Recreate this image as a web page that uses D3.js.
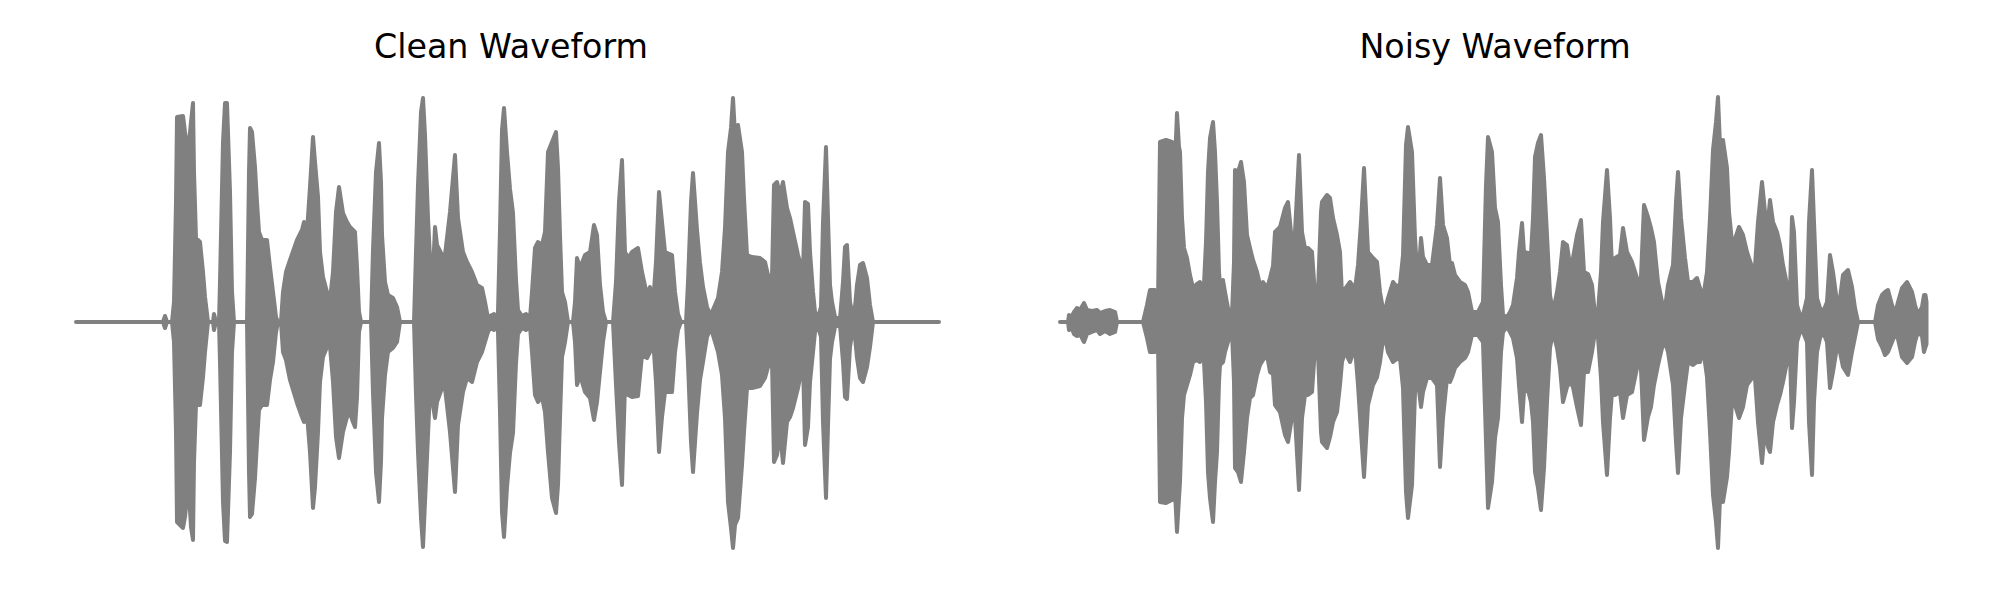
<!DOCTYPE html>
<html>
<head>
<meta charset="utf-8">
<script src="https://cdn.jsdelivr.net/npm/d3@7"></script>
<style>
  html, body { margin: 0; padding: 0; background: #ffffff; }
  svg { display: block; }
</style>
</head>
<body>
<svg id="chart" width="2000" height="600"></svg>
<script>
// ---- Data (time in ms, amplitude normalised; envelope) ----
const titles = ["Clean Waveform", "Noisy Waveform"];
const durationMs = 3480;

const cleanTimeMs = [
  0,348,356,364,384,
  392,400,404,428,436,444,452,460,468,472,480,496,508,516,528,
  548,552,560,
  572,576,588,596,604,616,624,632,
  684,692,696,704,716,724,732,744,764,776,788,800,808,
  820,828,840,856,884,904,912,924,936,948,956,968,976,988,1004,1016,
  1028,1040,1052,1068,1084,1096,1108,1116,1124,1132,1140,
  1180,1188,1200,1212,1220,1224,1236,1248,1268,1284,1296,
  1352,1360,1368,1380,1388,1396,1408,1420,1428,1436,1444,1464,1476,1496,1516,1528,1548,1564,1584,1604,1624,1636,1648,
  1656,1672,1684,
  1688,1696,1704,1712,1724,1736,1748,1760,1768,
  1784,1800,1816,
  1824,1836,1848,1864,1876,1888,1904,1920,1928,1936,1944,1956,1968,
  1988,1996,2004,2016,2036,2056,2072,2084,2096,2108,2120,
  2148,2160,2172,2184,2196,2208,2224,2248,2264,2284,2296,2308,2320,2332,2344,2356,2384,2396,2408,2420,
  2440,2448,2460,2468,2484,2496,2508,2524,2536,
  2544,2556,2568,2584,2596,2608,2620,2628,2636,2648,2664,2672,2684,2704,2736,2756,2768,2784,2792,2804,2816,2828,2844,2856,2868,2888,2908,2916,2928,2936,2948,2956,2968,
  2980,2988,3000,3008,3016,3024,3036,
  3056,3068,3076,3084,3096,3104,3116,3124,3136,3148,3164,3176,3188,
  3452
];
const cleanUpper = [
  0,0,.024,0,0,
  .08,.48,.82,.824,.76,.708,.712,.8,.876,.6,.336,.32,.2,.1,0,
  0,.032,0,
  0,.16,.72,.876,.876,.52,.12,0,
  0,.6,.776,.76,.62,.48,.36,.328,.328,.22,.12,.02,0,
  0,.12,.2,.248,.328,.368,.4,.36,.54,.74,.64,.5,.28,.18,.12,.088,
  .2,.44,.54,.436,.4,.38,.368,.36,.22,.04,0,
  0,.288,.6,.716,.56,.348,.16,.108,.096,.06,0,
  0,.28,.548,.84,.896,.748,.416,.176,.2,.38,.308,.268,.268,.44,.668,.416,.28,.24,.2,.148,.136,.08,.016,
  .024,.032,.012,
  .04,.368,.768,.856,.68,.532,.436,.168,.048,
  .024,.032,.016,
  .12,.296,.32,.308,.36,.68,.72,.76,.616,.348,.12,.08,0,
  0,.08,.256,.216,.268,.28,.388,.348,.148,.04,0,
  0,.16,.48,.648,.28,.256,.28,.296,.2,.108,.14,.068,.24,.52,.4,.28,.268,.12,.032,0,
  0,.16,.48,.596,.368,.236,.14,.06,.032,
  .04,.068,.096,.2,.376,.68,.776,.896,.748,.788,.68,.496,.268,.26,.256,.24,.188,.18,.548,.56,.508,.56,.456,.416,.36,.268,.2,.48,.472,.28,.12,.04,.02,
  .06,.4,.7,.416,.148,.08,.02,
  .012,.16,.3,.308,.08,.04,.06,.148,.228,.236,.176,.068,0,
  0
];
const cleanLower = [
  0,0,-.024,0,0,
  -.08,-.44,-.8,-.824,-.78,-.704,-.688,-.82,-.872,-.56,-.328,-.332,-.22,-.12,0,
  0,-.032,0,
  0,-.16,-.72,-.876,-.88,-.52,-.12,0,
  0,-.6,-.78,-.768,-.624,-.48,-.352,-.332,-.332,-.232,-.16,-.04,0,
  0,-.12,-.152,-.232,-.324,-.38,-.4,-.368,-.52,-.744,-.66,-.44,-.24,-.14,-.1,-.096,
  -.24,-.46,-.544,-.44,-.38,-.364,-.4,-.42,-.3,-.04,0,
  0,-.284,-.6,-.72,-.56,-.384,-.212,-.12,-.104,-.08,0,
  0,-.292,-.52,-.784,-.9,-.72,-.452,-.184,-.332,-.384,-.32,-.264,-.264,-.44,-.68,-.412,-.28,-.224,-.24,-.16,-.12,-.08,-.04,
  -.024,-.032,-.012,
  -.04,-.36,-.76,-.86,-.66,-.524,-.444,-.164,-.048,
  -.024,-.032,-.016,
  -.12,-.292,-.32,-.3,-.36,-.52,-.704,-.764,-.652,-.384,-.14,-.08,0,
  0,-.08,-.252,-.212,-.28,-.304,-.392,-.32,-.2,-.08,0,
  0,-.252,-.48,-.652,-.252,-.292,-.3,-.296,-.132,-.144,-.12,-.064,-.24,-.52,-.38,-.28,-.28,-.12,-.032,0,
  0,-.164,-.48,-.6,-.364,-.232,-.16,-.06,-.032,
  -.04,-.08,-.12,-.212,-.384,-.72,-.824,-.904,-.812,-.784,-.572,-.44,-.264,-.264,-.256,-.224,-.18,-.16,-.56,-.532,-.44,-.564,-.4,-.38,-.344,-.264,-.16,-.492,-.42,-.24,-.12,-.04,-.02,
  -.06,-.4,-.704,-.416,-.148,-.08,-.02,
  -.012,-.16,-.3,-.308,-.1,-.048,-.06,-.144,-.224,-.24,-.18,-.1,0,
  0
];

const noisyTimeMs = [
  0,32,36,44,56,68,80,96,108,128,148,160,180,200,220,228,
  332,348,360,380,392,400,424,448,460,468,476,480,488,496,508,520,532,548,560,572,
  584,592,600,612,620,628,636,640,652,660,672,688,
  696,700,712,724,736,748,760,772,788,800,812,828,840,852,
  860,880,900,912,928,940,956,968,980,992,1008,1020,1032,
  1044,1048,1068,1080,1092,1108,1120,1128,1140,1160,1180,
  1192,1204,1216,1232,1252,1268,1280,1296,
  1312,1332,1348,1360,1372,1384,1392,1408,1420,1432,
  1444,1452,1468,1488,1508,1520,1532,1548,1560,1568,1580,1600,1620,1632,1648,1672,
  1692,1704,1712,1728,1740,1752,1764,1772,
  1788,1800,1812,1828,1836,1848,1856,1872,1884,1892,1900,1912,1924,1936,1948,1960,1972,
  1988,2000,2012,2028,2040,2052,2068,2084,2096,2112,2128,2140,2152,
  2164,2172,2188,2200,2208,2220,2240,2252,2268,2288,2308,2320,
  2328,2336,2352,2364,2376,2392,2408,2420,2432,
  2452,2464,2472,2484,2500,2512,2532,2548,2560,2572,2588,2600,
  2612,2624,2632,2640,2652,2668,2676,2688,2700,2716,2732,2748,2768,2780,
  2792,2808,2820,2832,2840,2852,2868,2880,2892,2908,2920,
  2928,2936,2948,2960,2972,2988,
  2996,3008,3016,3028,3040,3052,3068,
  3080,3092,3108,3120,3132,3152,3168,3180,3192,
  3260,3272,3288,3300,3312,3328,3340,3352,3368,3388,3408,3420,3432,3448,3456,3462,3466
];
const noisyUpper = [
  0,0,.028,.016,.04,.056,.048,.076,.048,.044,.048,.036,.044,.048,.04,0,
  0,.068,.128,.128,.068,.72,.728,.72,.64,.836,.7,.68,.416,.296,.256,.188,.136,.152,.16,.068,
  .32,.6,.736,.8,.68,.48,.2,.148,.168,.12,.056,.032,
  .24,.608,.6,.64,.56,.348,.296,.248,.2,.148,.16,.136,.176,.224,
  .36,.38,.456,.48,.32,.36,.668,.36,.296,.296,.28,.108,.12,
  .44,.48,.508,.496,.416,.348,.28,.108,.132,.16,.132,
  .228,.4,.616,.28,.256,.24,.12,.028,
  .096,.16,.14,.152,.268,.708,.78,.68,.336,.148,
  .336,.26,.228,.228,.388,.576,.388,.336,.228,.236,.188,.16,.148,.12,.04,.04,
  .08,.548,.74,.68,.456,.4,.148,.028,
  .02,.04,.068,.176,.28,.396,.28,.276,.272,.416,.66,.716,.748,.576,.348,.108,.04,
  .12,.2,.32,.308,.228,.256,.348,.408,.2,.192,.148,.028,.04,
  .2,.4,.608,.416,.216,.256,.268,.376,.28,.24,.176,.08,
  .28,.468,.42,.376,.32,.16,.08,.056,.148,
  .228,.48,.6,.416,.256,.16,.16,.176,.136,.096,.2,.416,
  .688,.8,.9,.708,.728,.616,.44,.32,.332,.38,.348,.28,.22,.224,
  .4,.56,.44,.4,.488,.4,.36,.308,.228,.148,.12,
  .42,.36,.068,.028,.028,.096,
  .4,.608,.4,.096,.056,.04,.08,
  .268,.2,.08,.096,.188,.208,.14,.056,0,
  0,.068,.108,.12,.128,.068,.032,.08,.136,.16,.12,.068,.028,.06,.108,.108,.08
];
const noisyLower = [
  0,0,-.032,-.016,-.048,-.056,-.048,-.08,-.048,-.04,-.032,-.048,-.036,-.048,-.04,0,
  0,-.064,-.12,-.12,-.08,-.72,-.724,-.712,-.68,-.84,-.704,-.64,-.384,-.292,-.252,-.212,-.16,-.152,-.16,-.08,
  -.32,-.6,-.704,-.8,-.64,-.52,-.24,-.172,-.16,-.12,-.08,-.04,
  -.24,-.584,-.6,-.64,-.52,-.384,-.304,-.292,-.212,-.172,-.152,-.132,-.2,-.208,
  -.332,-.36,-.452,-.48,-.38,-.38,-.672,-.384,-.292,-.292,-.28,-.104,-.12,
  -.44,-.48,-.504,-.46,-.4,-.36,-.252,-.16,-.12,-.16,-.1,
  -.252,-.44,-.62,-.332,-.252,-.22,-.16,-.04,
  -.12,-.16,-.148,-.144,-.264,-.68,-.784,-.652,-.28,-.24,
  -.34,-.28,-.224,-.224,-.252,-.58,-.384,-.224,-.24,-.22,-.184,-.16,-.144,-.12,-.052,-.052,
  -.08,-.48,-.744,-.64,-.464,-.384,-.12,-.04,
  -.02,-.04,-.064,-.144,-.252,-.4,-.28,-.272,-.32,-.4,-.6,-.664,-.752,-.584,-.32,-.104,-.04,
  -.104,-.184,-.32,-.26,-.24,-.26,-.34,-.412,-.2,-.2,-.12,-.04,-.06,
  -.224,-.4,-.612,-.384,-.28,-.292,-.28,-.384,-.292,-.28,-.184,-.104,
  -.28,-.472,-.38,-.34,-.252,-.172,-.104,-.08,-.12,
  -.252,-.48,-.604,-.384,-.252,-.16,-.172,-.16,-.16,-.104,-.22,-.44,
  -.692,-.8,-.904,-.704,-.72,-.62,-.52,-.32,-.332,-.384,-.34,-.252,-.224,-.224,
  -.4,-.564,-.424,-.5,-.52,-.4,-.332,-.292,-.24,-.16,-.12,
  -.424,-.32,-.08,-.04,-.04,-.08,
  -.4,-.612,-.32,-.12,-.064,-.04,-.08,
  -.264,-.2,-.1,-.12,-.18,-.212,-.12,-.06,0,
  0,-.068,-.1,-.132,-.12,-.08,-.048,-.068,-.14,-.164,-.14,-.08,-.04,-.056,-.12,-.1,-.088
];

// ---- Drawing ----
const svg = d3.select("#chart");
svg.append("rect").attr("width", 2000).attr("height", 600).attr("fill", "#ffffff");

const panels = [
  { title: titles[0], t: cleanTimeMs, hi: cleanUpper, lo: cleanLower, xRange: [76, 946] },
  { title: titles[1], t: noisyTimeMs, hi: noisyUpper, lo: noisyLower, xRange: [1060, 1930] }
];

const y = d3.scaleLinear().domain([-1, 1]).range([572, 72]);

panels.forEach(p => {
  const x = d3.scaleLinear().domain([0, durationMs]).range(p.xRange);
  const n = Math.min(p.t.length, p.hi.length, p.lo.length);
  const pts = d3.range(n).map(i => ({ t: p.t[i], hi: p.hi[i], lo: p.lo[i] }));

  const area = d3.area()
    .x(d => x(d.t))
    .y0(d => y(d.lo))
    .y1(d => y(d.hi));

  const g = svg.append("g");
  g.append("path")
    .datum(pts)
    .attr("d", area)
    .attr("fill", "#808080")
    .attr("stroke", "#808080")
    .attr("stroke-width", 4)
    .attr("stroke-linejoin", "round");

  const cx = (p.xRange[0] + p.xRange[1]) / 2;
  svg.append("text")
    .attr("x", cx)
    .attr("y", 58)
    .attr("text-anchor", "middle")
    .attr("font-family", "'DejaVu Sans', sans-serif")
    .attr("font-size", 33.3)
    .attr("fill", "#000000")
    .text(p.title);
});
</script>
</body>
</html>
